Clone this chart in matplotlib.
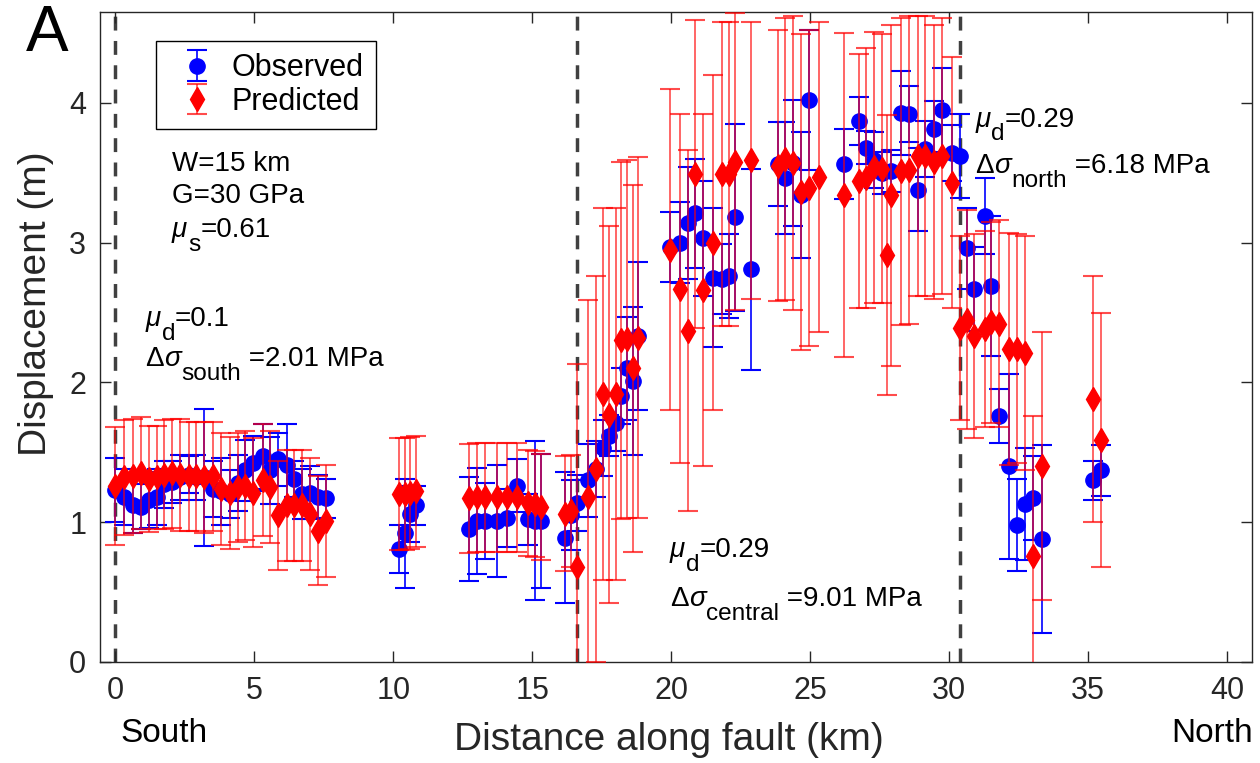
import matplotlib
matplotlib.use('Agg')
import numpy as np
import matplotlib.pyplot as plt
from matplotlib.transforms import IdentityTransform

plt.rcParams['font.family'] = 'Liberation Sans'

# distance along fault (km) for every measurement site
dist_km = [
    # south segment
    0.0, 0.3, 0.63, 0.92, 1.21, 1.5, 1.76, 2.04, 2.34, 2.64, 2.91, 3.2, 3.5, 3.81,
    4.11, 4.41, 4.68, 4.97, 5.3, 5.58, 5.87, 6.17, 6.44, 6.71, 7.01, 7.31, 7.59,
    10.19, 10.41, 10.59, 10.83,
    12.71, 13.03, 13.31, 13.73, 14.09, 14.47, 14.84, 15.1, 15.32, 16.19, 16.39,
    # central segment
    16.6, 17.0, 17.29, 17.53, 17.77, 18.02, 18.2, 18.4, 18.61, 18.8,
    19.96, 20.3, 20.6, 20.86, 21.16, 21.52, 21.82, 22.08, 22.3, 22.88,
    23.84, 24.08, 24.37, 24.68, 24.97, 25.31, 26.2, 26.74, 27.01, 27.3, 27.58,
    27.78, 27.9, 28.26, 28.56, 28.87, 29.14, 29.44, 29.74, 30.1, 30.4,
    # north segment
    30.65, 30.88, 31.28, 31.52, 31.8, 32.16, 32.46, 32.74, 33.02, 33.35, 35.18, 35.46,
]

obs_disp = [
    1.23, 1.18, 1.12, 1.11, 1.16, 1.18, 1.27, 1.29, 1.32, 1.34, 1.32, 1.32, 1.24, 1.22,
    1.20, 1.28, 1.37, 1.42, 1.47, 1.37, 1.45, 1.41, 1.31, 1.20, 1.21, 1.18, 1.17,
    0.81, 0.92, 1.06, 1.12,
    0.95, 1.01, 1.01, 1.01, 1.03, 1.26, 1.02, 1.01, 1.01, 0.89, 1.05,
    1.14, 1.30, 1.38, 1.53, 1.62, 1.71, 1.90, 2.10, 2.01, 2.33,
    2.97, 3.00, 3.14, 3.21, 3.03, 2.75, 2.74, 2.76, 3.18, 2.81,
    3.56, 3.46, 3.57, 3.34, 4.02, np.nan, 3.56, 3.87, 3.68, 3.59, 3.50,
    np.nan, 3.51, 3.93, 3.92, 3.38, 3.67, 3.81, 3.95, 3.64, 3.62,
    2.96, 2.67, 3.19, 2.69, 1.76, 1.40, 0.98, 1.13, 1.17, 0.88, 1.30, 1.37,
]

obs_err = [
    0.23, 0.20, 0.20, 0.16, 0.20, 0.20, 0.17, 0.15, 0.16, 0.13, 0.16, 0.49, 0.20, 0.24,
    0.17, 0.20, 0.22, 0.20, 0.23, 0.24, 0.19, 0.29, 0.13, 0.18, 0.19, 0.16, 0.14,
    0.17, 0.39, 0.20, 0.14,
    0.37, 0.38, 0.27, 0.40, 0.21, 0.19, 0.18, 0.57, 0.48, 0.47, 0.25,
    0.20, 0.26, 0.20, 0.20, 0.15, 0.20, 0.20, 0.37, 0.53, 0.53,
    0.25, 0.29, 0.40, 0.39, 0.41, 0.50, 0.25, 0.30, 0.67, 0.72,
    0.30, 0.40, 0.45, 0.45, 0.50, np.nan, 0.25, 0.17, 0.12, 0.20, 0.15,
    np.nan, 0.15, 0.30, 0.20, 0.30, 0.20, 0.20, 0.30, 0.20, 0.30,
    0.29, 0.30, 0.27, 0.50, 0.19, 0.66, 0.33, 0.40, 0.30, 0.67, 0.14, 0.18,
]

pred_disp = [
    1.26, 1.32, 1.33, 1.35, 1.31, 1.32, 1.34, 1.35, 1.34, 1.33, 1.33, 1.32, 1.33, 1.24,
    1.21, 1.25, 1.26, 1.21, 1.30, 1.25, 1.05, 1.12, 1.12, 1.12, 1.06, 0.94, 1.01,
    1.20, 1.20, 1.21, 1.22,
    1.17, 1.18, 1.18, 1.18, 1.18, 1.18, 1.14, 1.13, 1.11, 1.06, 1.08,
    0.68, 1.18, 1.38, 1.92, 1.77, 1.92, 2.30, 2.31, 2.10, 2.32,
    2.95, 2.67, 2.37, 3.49, 2.66, 3.00, 3.49, 3.49, 3.58, 3.59,
    3.55, 3.60, 3.57, 3.36, 3.39, 3.47, 3.34, 3.44, 3.46, 3.54, 3.53,
    2.91, 3.34, 3.51, 3.52, 3.62, 3.62, 3.58, 3.62, 3.43, 2.39,
    2.45, 2.33, 2.38, 2.43, 2.42, 2.24, 2.24, 2.21, 0.76, 1.40, 1.88, 1.59,
]

pred_err = [
    0.42, 0.41, 0.41, 0.40, 0.38, 0.37, 0.39, 0.39, 0.40, 0.39, 0.39, 0.40, 0.39, 0.40,
    0.40, 0.39, 0.39, 0.39, 0.40, 0.40, 0.39, 0.40, 0.40, 0.40, 0.40, 0.39, 0.40,
    0.40, 0.40, 0.40, 0.40,
    0.39, 0.39, 0.39, 0.39, 0.39, 0.39, 0.38, 0.38, 0.38, 0.41, 0.40,
    1.45, 1.41, 1.38, 1.33, 1.35, 1.33, 1.28, 1.28, 1.31, 1.29,
    1.15, 1.25, 1.29, 1.10, 1.26, 1.20, 1.09, 1.09, 1.06, 0.99,
    0.97, 1.01, 1.05, 1.13, 1.13, 1.11, 1.16, 0.91, 0.93, 0.97, 0.96,
    1.00, 1.22, 1.10, 1.10, 1.00, 1.00, 0.98, 0.99, 0.90, 0.66,
    0.78, 0.73, 0.70, 0.72, 0.74, 0.83, 0.82, 0.84, 1.00, 0.96, 0.88, 0.91,
]

segment_bounds = [0, 16.6, 30.4]

fig = plt.figure(figsize=(12.6, 7.63), dpi=100)
ax = fig.add_axes([0.0794, 0.1324, 0.9143, 0.8519])

for xb in segment_bounds:
    ax.axvline(xb, color='#404040', lw=2.5, ls=(0, (4, 3)), zorder=1)

ax.errorbar(dist_km, obs_disp, yerr=obs_err, fmt='o', color='#0000ff', ms=11,
            ecolor='#0000ff', elinewidth=1.2, capsize=7, capthick=1.5,
            label='Observed', zorder=2)
ax.errorbar(dist_km, pred_disp, yerr=pred_err, fmt='d', color='#ff0000', ms=12,
            ecolor=(1, 0, 0, 0.7), elinewidth=1.2, capsize=7, capthick=1.5,
            label='Predicted', zorder=3)

ax.set_xlim(-0.55, 40.9)
ax.set_ylim(0, 4.65)
ax.set_xticks(range(0, 41, 5))
ax.set_yticks([0, 1, 2, 3, 4])
ax.tick_params(direction='in', top=True, right=True, length=8, width=1,
               labelsize=22, labelcolor='#262626', color='#262626', pad=10)
for s in ax.spines.values():
    s.set_color('#262626')
    s.set_linewidth(1)

renderer = fig.canvas.get_renderer()


def rich_text(x, y, parts, size=20):
    # write a label piece by piece so subscripts can sit low, as in the original
    px, py = ax.transData.transform((x, y))
    for s, kind in parts:
        kw = dict(fontsize=size, va='baseline', ha='left', color='black',
                  transform=IdentityTransform())
        yy = py
        if kind == 'i':
            kw['fontstyle'] = 'italic'
        elif kind == 'sub':
            kw['fontsize'] = size * 0.88
            yy = py - 0.5 * size * fig.dpi / 72
        t = fig.text(px, yy, s, **kw)
        px = t.get_window_extent(renderer).x1 + (1 if kind == 'i' else 0)


rich_text(2.04, 3.51, [('W=15 km', 'n')])
rich_text(2.04, 3.28, [('G=30 GPa', 'n')])
rich_text(2.04, 3.04, [('μ', 'i'), ('s', 'sub'), ('=0.61', 'n')])
rich_text(1.08, 2.40, [('μ', 'i'), ('d', 'sub'), ('=0.1', 'n')])
rich_text(1.08, 2.12, [('Δ', 'n'), ('σ', 'i'), ('south', 'sub'), (' =2.01 MPa', 'n')])
rich_text(19.96, 0.75, [('μ', 'i'), ('d', 'sub'), ('=0.29', 'n')])
rich_text(19.96, 0.40, [('Δ', 'n'), ('σ', 'i'), ('central', 'sub'), (' =9.01 MPa', 'n')])
rich_text(30.94, 3.83, [('μ', 'i'), ('d', 'sub'), ('=0.29', 'n')])
rich_text(30.94, 3.50, [('Δ', 'n'), ('σ', 'i'), ('north', 'sub'), (' =6.18 MPa', 'n')])

ax.legend(loc='upper left', bbox_to_anchor=(0.049, 0.955), fontsize=22,
          fancybox=False, edgecolor='black', framealpha=1, borderaxespad=0,
          handlelength=1.82, handletextpad=0.24, borderpad=0.4, labelspacing=0.1)

fig.text(669 / 1260, 1 - 740 / 763, 'Distance along fault (km)', fontsize=28,
         ha='center', va='center', color='#262626')
fig.text(36 / 1260, 1 - 304 / 763, 'Displacement (m)', fontsize=28, rotation=90,
         ha='center', va='center', color='#262626')
fig.text(120 / 1260, 1 - 733 / 763, 'South', fontsize=24, ha='left', va='center')
fig.text(1253 / 1260, 1 - 733 / 763, 'North', fontsize=24, ha='right', va='center')
fig.text(47 / 1260, 1 - 34 / 763, 'A', fontsize=46, ha='center', va='center')

fig.savefig('out.png', dpi=100)
